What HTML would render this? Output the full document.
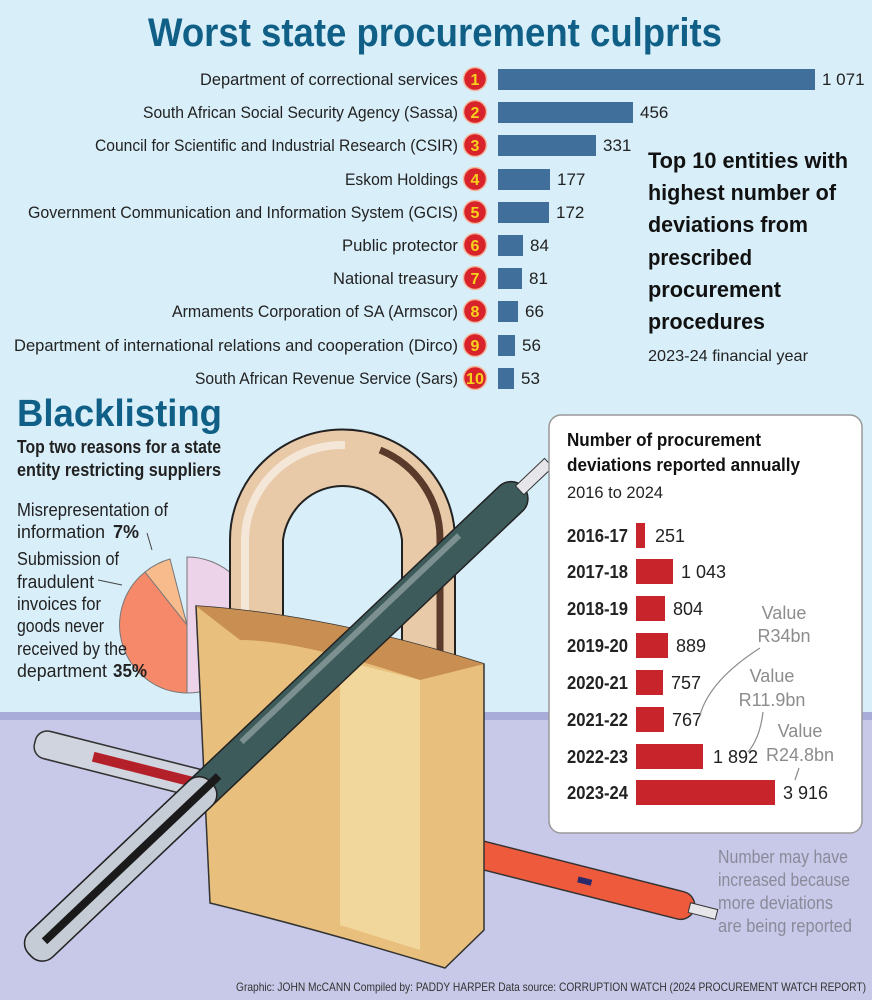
<!DOCTYPE html>
<html><head><meta charset="utf-8"><style>html,body{margin:0;padding:0;background:#d8eef9}svg{display:block}</style></head>
<body>
<svg width="872" height="1000" viewBox="0 0 872 1000" xmlns="http://www.w3.org/2000/svg" font-family="Liberation Sans, sans-serif">
<rect width="872" height="1000" fill="#d8eef9"/>
<rect y="712" width="872" height="288" fill="#c8c9e8"/>
<rect y="712" width="872" height="8" fill="#a8acd8"/>
<text x="148" y="46" font-size="40" font-weight="bold" fill="#0f5f87" textLength="574" lengthAdjust="spacingAndGlyphs">Worst state procurement culprits</text>
<g font-size="17" fill="#222">
<g text-anchor="end">
<text x="458" y="85" textLength="258" lengthAdjust="spacingAndGlyphs">Department of correctional services</text>
<text x="458" y="118" textLength="315" lengthAdjust="spacingAndGlyphs">South African Social Security Agency (Sassa)</text>
<text x="458" y="151" textLength="363" lengthAdjust="spacingAndGlyphs">Council for Scientific and Industrial Research (CSIR)</text>
<text x="458" y="185" textLength="113" lengthAdjust="spacingAndGlyphs">Eskom Holdings</text>
<text x="458" y="218" textLength="430" lengthAdjust="spacingAndGlyphs">Government Communication and Information System (GCIS)</text>
<text x="458" y="251" textLength="116" lengthAdjust="spacingAndGlyphs">Public protector</text>
<text x="458" y="284" textLength="125" lengthAdjust="spacingAndGlyphs">National treasury</text>
<text x="458" y="317" textLength="286" lengthAdjust="spacingAndGlyphs">Armaments Corporation of SA (Armscor)</text>
<text x="458" y="351" textLength="444" lengthAdjust="spacingAndGlyphs">Department of international relations and cooperation (Dirco)</text>
<text x="458" y="384" textLength="263" lengthAdjust="spacingAndGlyphs">South African Revenue Service (Sars)</text>
</g>
<g fill="#3f6f9a">
<rect x="498" y="69" width="317" height="21"/>
<rect x="498" y="102" width="135" height="21"/>
<rect x="498" y="135" width="98" height="21"/>
<rect x="498" y="169" width="52" height="21"/>
<rect x="498" y="202" width="51" height="21"/>
<rect x="498" y="235" width="25" height="21"/>
<rect x="498" y="268" width="24" height="21"/>
<rect x="498" y="301" width="20" height="21"/>
<rect x="498" y="335" width="17" height="21"/>
<rect x="498" y="368" width="16" height="21"/>
</g>
<text x="822" y="85">1 071</text><text x="640" y="118">456</text><text x="603" y="151">331</text>
<text x="557" y="185">177</text><text x="556" y="218">172</text><text x="530" y="251">84</text>
<text x="529" y="284">81</text><text x="525" y="317">66</text><text x="522" y="351">56</text><text x="521" y="384">53</text>
</g>
<g fill="#d8232b" stroke="#f2b9a0" stroke-width="1.5">
<circle cx="475" cy="79" r="11.5"/><circle cx="475" cy="112" r="11.5"/><circle cx="475" cy="145" r="11.5"/>
<circle cx="475" cy="179" r="11.5"/><circle cx="475" cy="212" r="11.5"/><circle cx="475" cy="245" r="11.5"/>
<circle cx="475" cy="278" r="11.5"/><circle cx="475" cy="311" r="11.5"/><circle cx="475" cy="345" r="11.5"/>
<circle cx="475" cy="378" r="11.5"/>
</g>
<g fill="#f7d21c" font-size="16" font-weight="bold" text-anchor="middle">
<text x="475" y="85">1</text><text x="475" y="118">2</text><text x="475" y="151">3</text><text x="475" y="185">4</text>
<text x="475" y="218">5</text><text x="475" y="251">6</text><text x="475" y="284">7</text><text x="475" y="317">8</text>
<text x="475" y="351">9</text><text x="475" y="384" textLength="18" lengthAdjust="spacingAndGlyphs">10</text>
</g>
<g font-size="22" font-weight="bold" fill="#111">
<text x="648" y="168" textLength="200" lengthAdjust="spacingAndGlyphs">Top 10 entities with</text>
<text x="648" y="200" textLength="188" lengthAdjust="spacingAndGlyphs">highest number of</text>
<text x="648" y="232" textLength="160" lengthAdjust="spacingAndGlyphs">deviations from</text>
<text x="648" y="265" textLength="104" lengthAdjust="spacingAndGlyphs">prescribed</text>
<text x="648" y="297" textLength="133" lengthAdjust="spacingAndGlyphs">procurement</text>
<text x="648" y="329" textLength="117" lengthAdjust="spacingAndGlyphs">procedures</text>
</g>
<text x="648" y="361" font-size="16" fill="#222" textLength="160" lengthAdjust="spacingAndGlyphs">2023-24 financial year</text>

<text x="17" y="426" font-size="38" font-weight="bold" fill="#0f5f87" textLength="205" lengthAdjust="spacingAndGlyphs">Blacklisting</text>
<g font-size="18" font-weight="bold" fill="#222">
<text x="17" y="453" textLength="204" lengthAdjust="spacingAndGlyphs">Top two reasons for a state</text>
<text x="17" y="476" textLength="204" lengthAdjust="spacingAndGlyphs">entity restricting suppliers</text>
</g>
<g>
<path d="M187,625 L187,557 A68,68 0 0 1 187,693 Z" fill="#ecd3ea" stroke="#777" stroke-width="1"/>
<path d="M187,625 L187,693 A68,68 0 0 1 145,572 Z" fill="#f5896a" stroke="#777" stroke-width="1"/>
<path d="M187,625 L145,572 A68,68 0 0 1 170,559 Z" fill="#f7bb8c" stroke="#777" stroke-width="1"/>
</g>
<path d="M147,533 L152,550" stroke="#444" stroke-width="1" fill="none"/>
<path d="M98,580 L122,585" stroke="#444" stroke-width="1" fill="none"/>
<g font-size="18" fill="#222">
<text x="17" y="516" textLength="151" lengthAdjust="spacingAndGlyphs">Misrepresentation of</text>
<text x="17" y="538" textLength="88" lengthAdjust="spacingAndGlyphs">information</text><text x="113" y="538" font-weight="bold">7%</text>
<text x="17" y="565" textLength="102" lengthAdjust="spacingAndGlyphs">Submission of</text>
<text x="17" y="588" textLength="77" lengthAdjust="spacingAndGlyphs">fraudulent</text>
<text x="17" y="610" textLength="84" lengthAdjust="spacingAndGlyphs">invoices for</text>
<text x="17" y="632" textLength="87" lengthAdjust="spacingAndGlyphs">goods never</text>
<text x="17" y="655" textLength="110" lengthAdjust="spacingAndGlyphs">received by the</text>
<text x="17" y="677" textLength="90" lengthAdjust="spacingAndGlyphs">department</text><text x="113" y="677" font-weight="bold" textLength="34" lengthAdjust="spacingAndGlyphs">35%</text>
</g>

<g transform="translate(35,742) rotate(14.2)">
<rect x="0" y="-14" width="680" height="28" rx="14" fill="#ee5a3c" stroke="#333" stroke-width="1.5"/>
<rect x="0" y="-14" width="260" height="28" rx="12" fill="#cfd4de" stroke="#333" stroke-width="1.5"/>
<rect x="60" y="-5" width="200" height="10" fill="#b3202a"/>
<rect x="560" y="-3" width="14" height="6" fill="#2a2a6a"/>
<rect x="675" y="-5" width="28" height="10" fill="#e5e5ea" stroke="#333"/>
</g>
<path d="M230,640 L230,540 A112,110 0 0 1 455,540 L455,690 L402,690 L402,540 A60,62 0 0 0 283,540 L283,640 Z" fill="#e8c9a8" stroke="#222" stroke-width="2"/>
<path d="M245,630 L245,540 A97,96 0 0 1 345,445" stroke="#f5e7d8" stroke-width="8" fill="none"/>
<path d="M380,450 A97,96 0 0 1 440,540 L440,680" stroke="#5a3a2a" stroke-width="7" fill="none"/>
<path d="M196,606 Q330,615 484,664 L484,930 L445,968 Q320,930 210,903 Z" fill="#e8bf7d" stroke="#333" stroke-width="1.5"/>
<path d="M340,660 L420,680 L420,950 L340,925 Z" fill="#f2d79c"/>
<path d="M196,606 Q330,615 484,664 L420,680 Q300,640 240,640 Z" fill="#c98e52"/>
<g transform="translate(30,955) rotate(-43.5)">
<rect x="0" y="-17" width="680" height="34" rx="17" fill="#3e5b5b" stroke="#222" stroke-width="1.5"/>
<rect x="0" y="-17" width="250" height="34" rx="15" fill="#c6ccd6" stroke="#222" stroke-width="1.5"/>
<rect x="20" y="-4" width="240" height="8" fill="#1a1a1a"/>
<rect x="300" y="-12" width="300" height="6" fill="#7c9090"/>
<rect x="675" y="-6" width="40" height="12" fill="#e5e5ea" stroke="#333"/>
</g>

<rect x="549" y="415" width="313" height="418" rx="12" fill="#fff" stroke="#999" stroke-width="1.5"/>
<g font-size="18" font-weight="bold" fill="#111">
<text x="567" y="446" textLength="194" lengthAdjust="spacingAndGlyphs">Number of procurement</text>
<text x="567" y="471" textLength="233" lengthAdjust="spacingAndGlyphs">deviations reported annually</text>
</g>
<text x="567" y="498" font-size="17" fill="#222" textLength="96" lengthAdjust="spacingAndGlyphs">2016 to 2024</text>
<g font-size="18" font-weight="bold" fill="#222">
<text x="567" y="542" textLength="61" lengthAdjust="spacingAndGlyphs">2016-17</text>
<text x="567" y="578" textLength="61" lengthAdjust="spacingAndGlyphs">2017-18</text>
<text x="567" y="615" textLength="61" lengthAdjust="spacingAndGlyphs">2018-19</text>
<text x="567" y="652" textLength="61" lengthAdjust="spacingAndGlyphs">2019-20</text>
<text x="567" y="689" textLength="61" lengthAdjust="spacingAndGlyphs">2020-21</text>
<text x="567" y="726" textLength="61" lengthAdjust="spacingAndGlyphs">2021-22</text>
<text x="567" y="763" textLength="61" lengthAdjust="spacingAndGlyphs">2022-23</text>
<text x="567" y="799" textLength="61" lengthAdjust="spacingAndGlyphs">2023-24</text>
</g>
<g fill="#c8242c">
<rect x="636" y="523" width="9" height="25"/>
<rect x="636" y="559" width="37" height="25"/>
<rect x="636" y="596" width="29" height="25"/>
<rect x="636" y="633" width="32" height="25"/>
<rect x="636" y="670" width="27" height="25"/>
<rect x="636" y="707" width="28" height="25"/>
<rect x="636" y="744" width="67" height="25"/>
<rect x="636" y="780" width="139" height="25"/>
</g>
<g font-size="18" fill="#222">
<text x="655" y="542">251</text><text x="681" y="578">1 043</text><text x="673" y="615">804</text>
<text x="676" y="652">889</text><text x="671" y="689">757</text><text x="672" y="726">767</text>
<text x="713" y="763">1 892</text><text x="783" y="799">3 916</text>
</g>
<g font-size="18" fill="#8c8c8c" text-anchor="middle">
<text x="784" y="619">Value</text><text x="784" y="642">R34bn</text>
<text x="772" y="682">Value</text><text x="772" y="706">R11.9bn</text>
<text x="800" y="737">Value</text><text x="800" y="761">R24.8bn</text>
</g>
<g stroke="#8c8c8c" stroke-width="1.2" fill="none">
<path d="M760,648 Q710,680 700,715"/>
<path d="M763,712 Q760,738 748,752"/>
<path d="M799,768 L795,780"/>
</g>
<g font-size="18" fill="#8a8a9a">
<text x="718" y="863" textLength="130" lengthAdjust="spacingAndGlyphs">Number may have</text>
<text x="718" y="886" textLength="132" lengthAdjust="spacingAndGlyphs">increased because</text>
<text x="718" y="909" textLength="115" lengthAdjust="spacingAndGlyphs">more deviations</text>
<text x="718" y="932" textLength="134" lengthAdjust="spacingAndGlyphs">are being reported</text>
</g>
<text x="236" y="991" font-size="12" fill="#333" textLength="630" lengthAdjust="spacingAndGlyphs">Graphic: JOHN McCANN  Compiled by: PADDY HARPER  Data source: CORRUPTION WATCH (2024 PROCUREMENT WATCH REPORT)</text>
</svg>
</body></html>
